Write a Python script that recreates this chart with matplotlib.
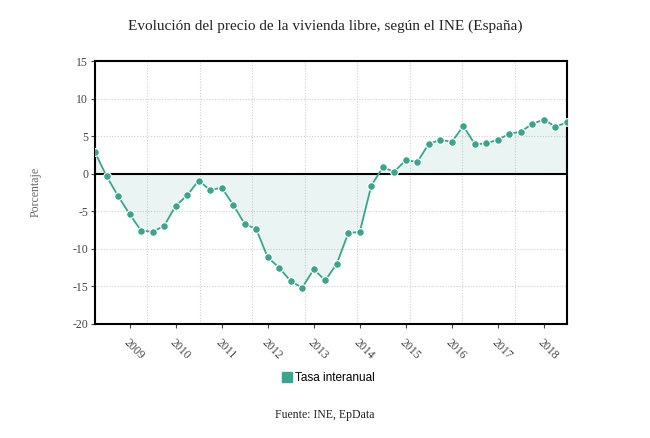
import matplotlib
matplotlib.use("Agg")
import matplotlib.pyplot as plt
import numpy as np
from matplotlib.lines import Line2D

title = "Evolución del precio de la vivienda libre, según el INE (España)"
source = "Fuente: INE, EpData"
series_name = "Tasa interanual"
y_label = "Porcentaje"

# quarterly values, 2008 Q2 .. 2018 Q3
values = [2.85, -0.31, -2.97, -5.36, -7.58, -7.72, -6.96, -4.30, -2.88, -0.93,
          -2.17, -1.86, -4.12, -6.69, -7.36, -11.13, -12.51, -14.32, -15.17, -12.73,
          -14.19, -12.0, -7.89, -7.76, -1.59, 0.85, 0.27, 1.82, 1.56, 4.0,
          4.48, 4.26, 6.35, 3.91, 4.04, 4.53, 5.32, 5.59, 6.66, 7.19,
          6.26, 6.84]
year_labels = ["2009", "2010", "2011", "2012", "2013", "2014", "2015", "2016", "2017", "2018"]
year_positions = [3, 7, 11, 15, 19, 23, 27, 31, 35, 39]  # index of Q1 of each year
y_ticks = [-20, -15, -10, -5, 0, 5, 10, 15]

color = "#3aa58c"
x = np.arange(len(values))

fig = plt.figure(figsize=(6.5, 4.38), dpi=100)
ax = fig.add_axes([95/650, 1-324/438, (567-95)/650, (324-61)/438])

ax.fill_between(x, values, 0, color=color, alpha=0.10, linewidth=0, zorder=1)
ax.axhline(0, color="black", lw=1.5, zorder=2)
ax.plot(x, values, color=color, lw=1.3, marker="o", markersize=5.5,
        markerfacecolor=color, markeredgecolor="white", markeredgewidth=0.8, zorder=3)

ax.set_xlim(0, len(values) - 1)
ax.set_ylim(-20, 15)
ax.set_yticks(y_ticks)
ax.set_yticklabels([str(v) for v in y_ticks])
ax.set_xticks(year_positions)
ax.set_xticklabels(year_labels, rotation=-45, ha="left", va="top", rotation_mode="anchor")
ax.set_xticks(np.linspace(0, len(values) - 1, 10), minor=True)

ax.grid(False)
ax.grid(True, axis="x", which="minor", color="#d0d0d0", linestyle=(0, (1, 1.5)), lw=0.8)
ax.grid(True, axis="y", which="major", color="#d0d0d0", linestyle=(0, (1, 1.5)), lw=0.8)
ax.set_axisbelow(True)

for s in ax.spines.values():
    s.set_color("black")
    s.set_linewidth(1.5)

serif = "Liberation Serif"
ax.tick_params(axis="both", which="major", length=3, width=0.8, color="#444444",
               labelsize=8.5, labelcolor="#444444", pad=2)
ax.tick_params(axis="x", which="minor", length=0)
ax.tick_params(axis="x", which="major", pad=6)
for lab in ax.get_xticklabels() + ax.get_yticklabels():
    lab.set_fontfamily(serif)

fig.text(0.5, 1-26/438, title, ha="center", va="center", fontsize=11, family=serif, color="#222222")
fig.text(36/650, 1-192/438, y_label, ha="center", va="center", rotation=90, fontsize=8.5,
         family=serif, color="#666666")
fig.text(0.5, 1-415/438, source, ha="center", va="center", fontsize=8.5, family=serif, color="#222222")

handle = Line2D([], [], marker="s", linestyle="none", markersize=6.5, markerfacecolor=color,
                markeredgecolor=color)
fig.legend([handle], [series_name], loc="center", bbox_to_anchor=(328/650, 1-378/438),
           frameon=False, prop={"family": "Liberation Sans", "size": 8.5},
           handletextpad=0.2, handlelength=0.9)

fig.savefig("out.png", dpi=100)
